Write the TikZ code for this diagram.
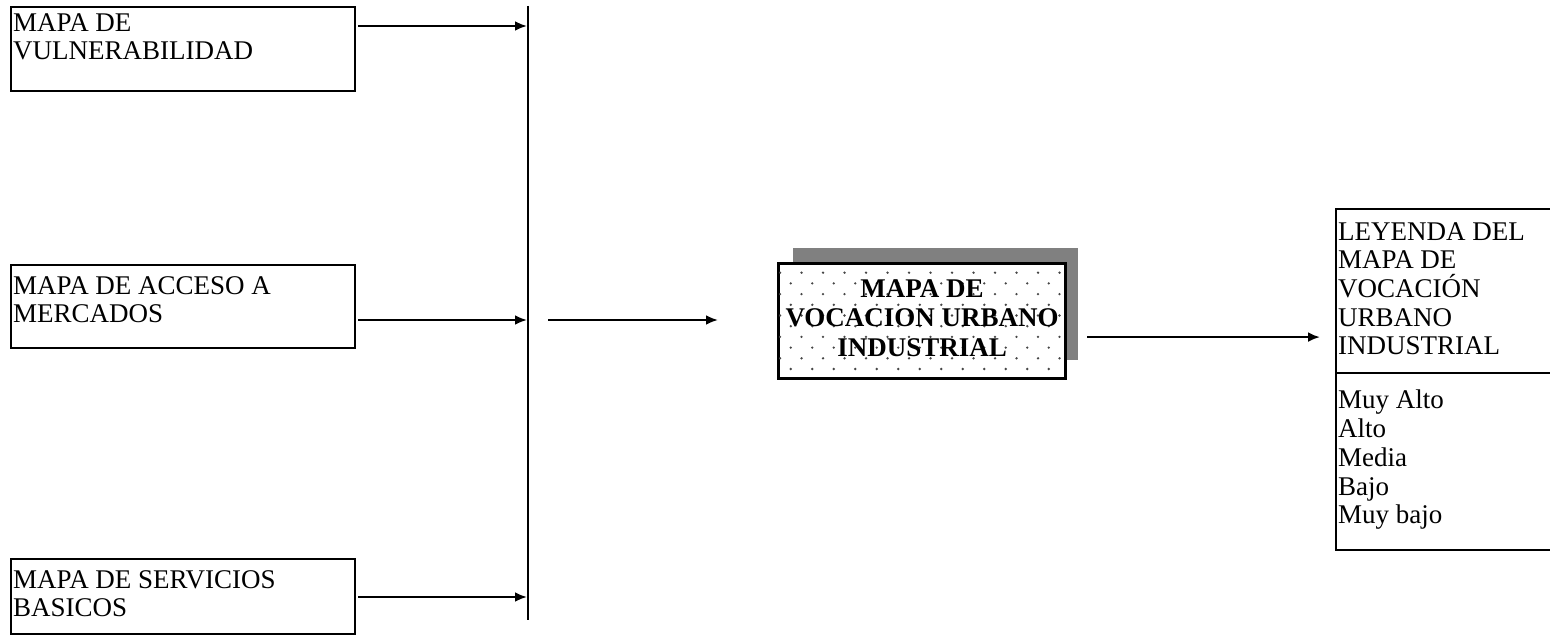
\documentclass[tikz,border=0pt]{standalone}
\usepackage{fontspec}
\setmainfont{Liberation Serif}
\usetikzlibrary{arrows.meta,calc}
\definecolor{shade}{RGB}{128,128,128}
\definecolor{dotc}{RGB}{70,70,70}
\begin{document}
\begin{tikzpicture}[x=1pt,y=-1pt,
  box/.style={draw,line width=2.2pt,inner sep=0pt,anchor=north west},
  lbl/.style={inner sep=0pt,anchor=north west,align=left,font=\fontsize{27}{28.7}\selectfont},
  arr/.style={line width=2.5pt,-{Latex[length=12pt,width=10pt]}},
  plain/.style={line width=2.6pt}]
\useasboundingbox (0,0) rectangle (1550,636);
% input boxes
\node[box,minimum width=344pt,minimum height=84pt] (b1) at (10,6) {};
\node[box,minimum width=344pt,minimum height=83pt] (b2) at (10,264) {};
\node[box,minimum width=344pt,minimum height=75pt] (b3) at (10,558) {};
\node[lbl] (t1) at ($(b1.north west)+(3,7)$) {MAPA DE\\VULNERABILIDAD};
\node[lbl] (t2) at ($(b2.north west)+(3,12)$) {MAPA DE ACCESO A\\MERCADOS};
\node[lbl] (t3) at ($(b3.north west)+(3,12)$) {MAPA DE SERVICIOS\\BASICOS};
% bus line
\coordinate (bt) at (528,6);
\coordinate (bb) at (528,620);
\draw[plain] (bt) -- (bb);
\draw[arr] ($(b1.north east)+(2,20)$) coordinate (s1) -- ([xshift=-1pt]s1 -| bt);
\draw[arr] ($(b2.north east)+(2,56)$) coordinate (s2) -- ([xshift=-1pt]s2 -| bt);
\draw[arr] ($(b3.north east)+(2,39)$) coordinate (s3) -- ([xshift=-1pt]s3 -| bt);
% middle arrow
\coordinate (m1) at (548,320);
\coordinate (m2) at (718,320);
\draw[arr] (m1) -- (m2);
% central box with shadow
\node[fill=shade,inner sep=0pt,anchor=north west,minimum width=285pt,minimum height=112pt] (sh) at (793,248) {};
\node[box,fill=white,minimum width=286pt,minimum height=114pt] (c) at (778,263) {};
\begin{scope}
\clip (c.north west) rectangle (c.south east);
\foreach \r in {0,...,11}{
  \foreach \k in {0,...,14}{
    \fill[dotc] ({780+21.5*\k+mod(\r,2)*10.75},{272.7+10.7*\r}) circle (1.3pt);
  }
}
\end{scope}
\draw[line width=2.2pt] (c.north west) rectangle (c.south east);
\node[inner sep=0pt,align=center,font=\bfseries\fontsize{27}{29.5}\selectfont] (ct) at ($(c.center)+(0,-3)$) {MAPA DE\\VOCACION URBANO\\INDUSTRIAL};
% legend
\node[box,minimum width=222pt,minimum height=341pt] (lg) at (1335,208) {};
\coordinate (dv) at (1335,373);
\draw[line width=2.2pt] (dv) -- (dv -| lg.east);
\node[lbl] (lh) at ($(lg.north west)+(3,14)$) {LEYENDA DEL\\MAPA DE\\VOCACIÓN\\URBANO\\INDUSTRIAL};
\node[lbl] (li) at ($(dv)+(3,17)$) {Muy Alto\\Alto\\Media\\Bajo\\Muy bajo};
\draw[arr] ($(c.east)+(21,16)$) coordinate (r1) -- ([xshift=-15pt]r1 -| lg.west);
\end{tikzpicture}
\end{document}
